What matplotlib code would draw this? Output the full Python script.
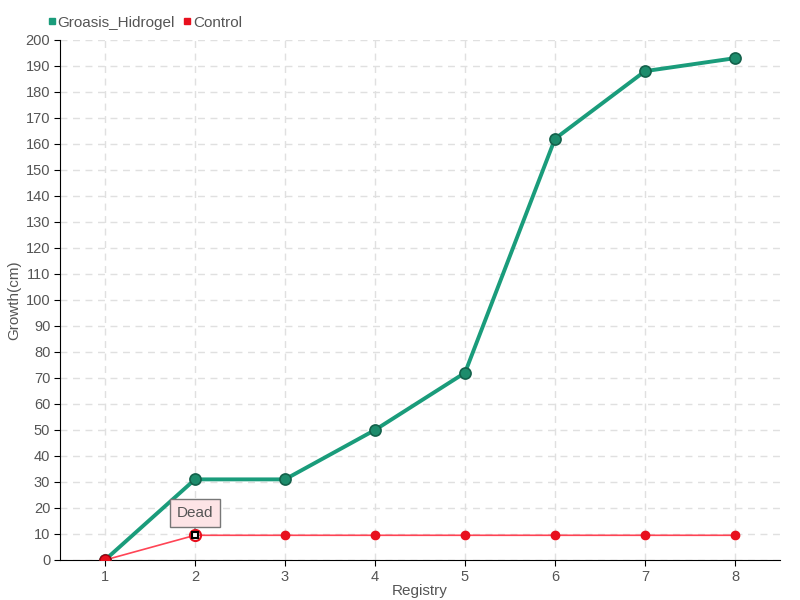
import matplotlib
matplotlib.use('Agg')
from matplotlib import pyplot as plt
from matplotlib.lines import Line2D

# data
registry = [1, 2, 3, 4, 5, 6, 7, 8]
groasis = [0, 31, 31, 50, 72, 162, 188, 193]
control = [0, 9.5, 9.5, 9.5, 9.5, 9.5, 9.5, 9.5]
dead_idx = 1

plt.rcParams['font.family'] = ['Liberation Sans', 'DejaVu Sans']
txt = '#555555'
fs = 10.5

fig = plt.figure(figsize=(8, 6), dpi=100)
ax = fig.add_axes([0.075, 0.0667, 0.9, 0.8667])

ax.set_xlim(0.5, 8.5)
ax.set_ylim(0, 200)
ax.set_xticks(registry)
ax.set_yticks(range(0, 201, 10))
ax.grid(True, color='#e0e0e0', linestyle=(0, (5, 4)), linewidth=1)
ax.set_axisbelow(True)
for s in ['top', 'right']:
    ax.spines[s].set_visible(False)
ax.tick_params(colors='black', labelcolor=txt, labelsize=fs, length=4, pad=3)

ax.plot(registry, groasis, color='#1a9c7b', linewidth=2.8, marker='o', markersize=8,
        markerfacecolor='#1d8c6c', markeredgecolor='#13614b', markeredgewidth=1.2, zorder=3)
ax.plot(registry, control, color='#ff4455', linewidth=1.2, zorder=2)
ax.plot([x for i, x in enumerate(registry) if i != 0 and i != dead_idx],
        [y for i, y in enumerate(control) if i != 0 and i != dead_idx],
        'o', color='#e8101e', markersize=6, zorder=4)
ax.plot(registry[0], control[0], 'o', color='#e8101e', markeredgecolor='#a00010',
        markersize=8, zorder=5)
ax.plot(registry[dead_idx], control[dead_idx], 's', markerfacecolor='white',
        markeredgecolor='black', markeredgewidth=1.5, markersize=5, zorder=5)
ax.plot(registry[dead_idx], control[dead_idx], 'o', markerfacecolor='none',
        markeredgecolor='#e8101e', markeredgewidth=1.5, markersize=8, zorder=4)

ax.annotate('Dead', xy=(registry[dead_idx], control[dead_idx] + 2.5),
            xytext=(registry[dead_idx], control[dead_idx] + 8.5), ha='center', va='center',
            fontsize=11, color=txt,
            bbox=dict(boxstyle='square,pad=0.45', facecolor='#fde4e6', edgecolor='#777777', linewidth=1),
            arrowprops=dict(arrowstyle='-', color='#777777', linewidth=1), zorder=6)

ax.set_xlabel('Registry', color=txt, fontsize=11, labelpad=0)
ax.set_ylabel('Growth(cm)', color=txt, fontsize=11)
ax.yaxis.set_label_coords(-0.054, 0.5)

handles = [Line2D([], [], marker='s', linestyle='none', color='#1a9c7b', markersize=4),
           Line2D([], [], marker='s', linestyle='none', color='#e8101e', markersize=4)]
fig.legend(handles, ['Groasis_Hidrogel', 'Control'], loc='upper left',
           bbox_to_anchor=(0.036, 0.997), ncol=2, frameon=False, fontsize=11,
           handletextpad=-0.25, columnspacing=0.25, labelcolor=txt, handlelength=1.2)

fig.savefig('out.png', dpi=100)
